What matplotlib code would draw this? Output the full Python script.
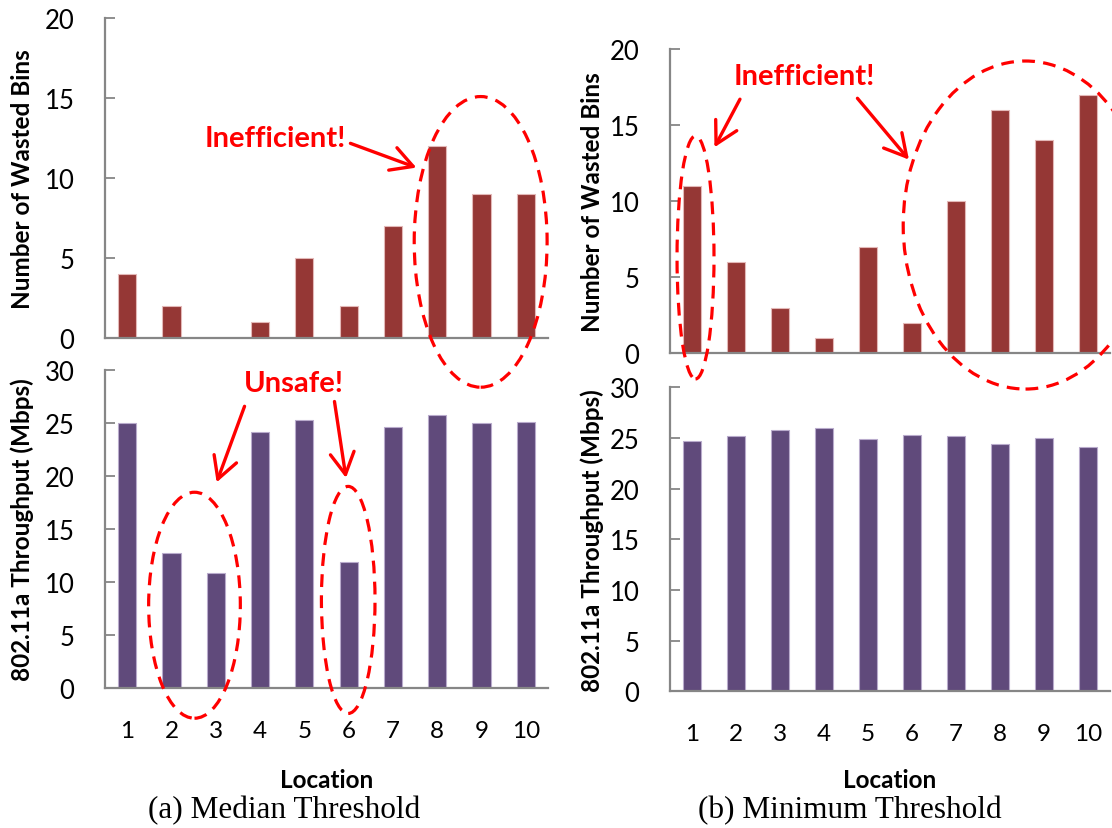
import numpy as np
import matplotlib
matplotlib.use('Agg')
import matplotlib.pyplot as plt
from matplotlib.patches import Ellipse

plt.rcParams['font.family'] = ['Lato', 'DejaVu Sans']

locations = np.arange(1, 11)
loc_labels = [str(i) for i in locations]

# median threshold
median_wasted = [4, 2, 0, 1, 5, 2, 7, 12, 9, 9]
median_tput = [25.0, 12.7, 10.8, 24.1, 25.3, 11.9, 24.6, 25.7, 25.0, 25.1]

# minimum threshold
minimum_wasted = [11, 6, 3, 1, 7, 2, 10, 16, 14, 17]
minimum_tput = [24.7, 25.2, 25.8, 26.0, 24.9, 25.3, 25.2, 24.4, 25.0, 24.1]

RED_BAR = '#953735'
RED_EDGE = '#e3b8b7'
PURPLE_BAR = '#604a7b'
PURPLE_EDGE = '#b9abcc'
AXIS_GRAY = '#868686'
MARK = '#ff0000'

W, H = 1112, 829


def rect(x0, y_top, x1, y_bot):
    return [x0 / W, 1 - y_bot / H, (x1 - x0) / W, (y_bot - y_top) / H]


def style_axes(ax, ymax, ystep):
    ax.set_facecolor('none')
    for s in ('top', 'right'):
        ax.spines[s].set_visible(False)
    for s in ('left', 'bottom'):
        ax.spines[s].set_color(AXIS_GRAY)
        ax.spines[s].set_linewidth(1.6)
    ax.set_xlim(0.5, 10.5)
    ax.set_ylim(0, ymax)
    ax.set_yticks(np.arange(0, ymax + 1, ystep))
    ax.tick_params(axis='y', direction='in', length=7, width=1.3,
                   color=AXIS_GRAY, labelsize=18.5, pad=22)
    ax.tick_params(axis='x', length=0, labelsize=17.5, pad=23)
    ax.set_xticks(locations)


def bars(ax, vals, color, edge):
    ax.bar(locations, vals, width=0.41, color=color, edgecolor=edge,
           linewidth=0.8, zorder=2)


def ring(ax, cx, cy, w, h):
    ax.add_patch(Ellipse((cx, cy), w, h, fill=False, edgecolor=MARK,
                         linewidth=2.3, linestyle=(0, (4, 2.6)),
                         clip_on=False, zorder=5))


def arrow(ax, start, tip):
    ax.annotate('', xy=tip, xytext=start, annotation_clip=False,
                arrowprops=dict(arrowstyle='->,head_length=0.6,head_width=0.33',
                                color=MARK, lw=2.4, shrinkA=0, shrinkB=0,
                                mutation_scale=26))


def label(ax, x, y, s):
    ax.text(x, y, s, color=MARK, fontsize=21, fontweight='bold',
            ha='center', va='center', zorder=6)


fig = plt.figure(figsize=(W / 100, H / 100), dpi=100)

# (a) median threshold
ax_a1 = fig.add_axes(rect(105, 19.3, 548, 338.7))
ax_a2 = fig.add_axes(rect(105, 370.7, 548, 689))
# (b) minimum threshold
ax_b1 = fig.add_axes(rect(670, 50, 1110, 354.3))
ax_b2 = fig.add_axes(rect(670, 388.3, 1110, 692.3))

for ax, vals in ((ax_a1, median_wasted), (ax_b1, minimum_wasted)):
    style_axes(ax, 20, 5)
    bars(ax, vals, RED_BAR, RED_EDGE)
    ax.set_xticklabels([])
    ax.set_ylabel('Number of Wasted Bins', fontsize=17.5, fontweight='bold')

for ax, vals in ((ax_a2, median_tput), (ax_b2, minimum_tput)):
    style_axes(ax, 30, 5)
    bars(ax, vals, PURPLE_BAR, PURPLE_EDGE)
    ax.set_xticklabels(loc_labels)
    ax.set_ylabel('802.11a Throughput (Mbps)', fontsize=17.5, fontweight='bold')
    ax.set_xlabel('Location', fontsize=17.5, fontweight='bold')

ax_a1.yaxis.set_label_coords(-0.16, 0.5)
ax_a2.yaxis.set_label_coords(-0.16, 0.5)
ax_b1.yaxis.set_label_coords(-0.15, 0.5)
ax_b2.yaxis.set_label_coords(-0.15, 0.5)
ax_a2.xaxis.set_label_coords(0.5, -0.25)
ax_b2.xaxis.set_label_coords(0.5, -0.252)

# annotations, median threshold
ring(ax_a1, 8.98, 6.0, 3.0, 18.2)
label(ax_a1, 4.35, 12.5, 'Inefficient!')
arrow(ax_a1, (6.04, 12.17), (7.53, 10.65))

ring(ax_a2, 2.52, 7.8, 2.07, 21.3)
ring(ax_a2, 5.99, 8.3, 1.21, 21.4)
label(ax_a2, 4.77, 28.75, 'Unsafe!')
arrow(ax_a2, (3.65, 26.55), (3.02, 19.38))
arrow(ax_a2, (5.68, 27.0), (5.94, 19.8))

# annotations, minimum threshold
ring(ax_b1, 1.08, 6.3, 0.84, 15.97)
ring(ax_b1, 8.58, 8.43, 5.56, 21.56)
label(ax_b1, 3.54, 18.2, 'Inefficient!')
arrow(ax_b1, (2.09, 16.7), (1.51, 13.54))
arrow(ax_b1, (4.76, 16.76), (5.93, 12.73))

fig.text(284 / W, 1 - 811 / H, '(a) Median Threshold', fontsize=22.5,
         family='Liberation Serif', ha='center', va='center')
fig.text(850 / W, 1 - 811 / H, '(b) Minimum Threshold', fontsize=22.5,
         family='Liberation Serif', ha='center', va='center')

fig.savefig('out.png', dpi=100)
